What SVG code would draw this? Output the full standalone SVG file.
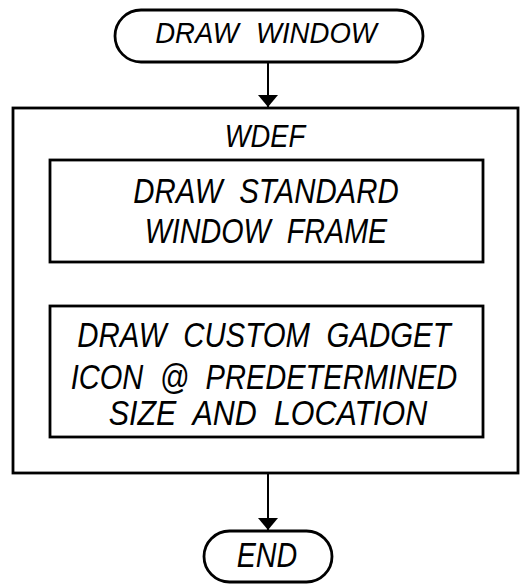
<svg xmlns="http://www.w3.org/2000/svg" width="520" height="585" viewBox="0 0 520 585">
<defs>
<style>
.shape{fill:none;stroke:#000;stroke-width:2.8}
.t{font-family:"Liberation Sans",Arial,sans-serif;font-style:italic;font-size:35px;fill:#000;text-anchor:middle;word-spacing:10px}
.conn{stroke:#000;stroke-width:2;fill:none}
</style>
<marker id="ah" viewBox="0 0 12 20" refX="12" refY="10" markerWidth="12" markerHeight="20" markerUnits="userSpaceOnUse" orient="auto">
<path d="M0,0 L12,10 L0,20 Z" fill="#000"/>
</marker>
</defs>
<rect width="520" height="585" fill="#fff"/>
<g id="start">
<rect class="shape" x="115" y="10" width="308" height="52" rx="26" ry="26"/>
<text class="t" transform="translate(266,43) scale(0.95,1)" x="0" y="0" style="font-size:29px">DRAW WINDOW</text>
</g>
<g id="wdef">
<rect class="shape" x="13" y="108" width="505" height="365"/>
<text class="t" transform="translate(265,147) scale(0.88,1)" x="0" y="0" style="font-size:31px">WDEF</text>
</g>
<g id="frame">
<rect class="shape" x="50" y="160" width="433" height="102"/>
<text class="t" transform="translate(266,203) scale(0.84,1)" x="0" y="0">DRAW STANDARD</text>
<text class="t" transform="translate(266,243) scale(0.82,1)" x="0" y="0">WINDOW FRAME</text>
</g>
<g id="gadget">
<rect class="shape" x="50" y="306" width="433" height="131"/>
<text class="t" transform="translate(264,347) scale(0.84,1)" x="0" y="0">DRAW CUSTOM GADGET</text>
<text class="t" transform="translate(264,389) scale(0.83,1)" x="0" y="0">ICON @ PREDETERMINED</text>
<text class="t" transform="translate(268,425) scale(0.87,1)" x="0" y="0">SIZE AND LOCATION</text>
</g>
<g id="end">
<rect class="shape" x="204" y="531" width="128" height="51" rx="25.5" ry="25.5"/>
<text class="t" transform="translate(267,567) scale(0.82,1)" x="0" y="0">END</text>
</g>
<g id="connectors">
<line class="conn" x1="268" y1="62" x2="268" y2="107" marker-end="url(#ah)"/>
<line class="conn" x1="268" y1="473" x2="268" y2="530" marker-end="url(#ah)"/>
</g>
</svg>
